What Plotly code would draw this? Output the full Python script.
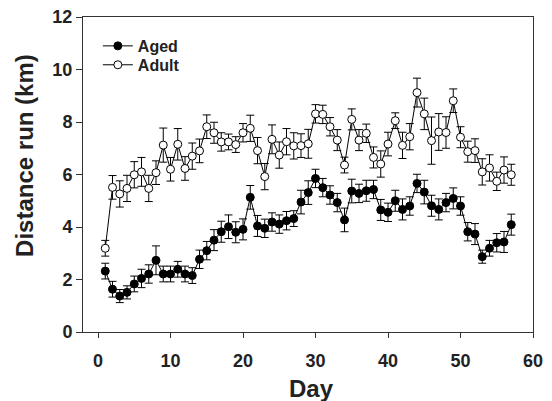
import plotly.graph_objects as go

days = list(range(1, 58))

aged = [2.32, 1.63, 1.37, 1.51, 1.83, 2.04, 2.21, 2.73, 2.21, 2.21,
        2.39, 2.21, 2.15, 2.77, 3.10, 3.50, 3.82, 4.01, 3.80, 3.91,
        5.13, 4.04, 3.95, 4.19, 4.11, 4.24, 4.32, 4.95, 5.31, 5.85,
        5.50, 5.22, 4.93, 4.27, 5.37, 5.28, 5.38, 5.43, 4.65, 4.56,
        5.00, 4.67, 4.80, 5.66, 5.33, 4.81, 4.67, 4.93, 5.09, 4.80,
        3.82, 3.73, 2.87, 3.19, 3.40, 3.43, 4.09]
aged_err = [0.3, 0.3, 0.25, 0.25, 0.3, 0.35, 0.35, 0.55, 0.3, 0.3,
            0.3, 0.3, 0.3, 0.35, 0.35, 0.4, 0.4, 0.45, 0.4, 0.4,
            0.45, 0.4, 0.35, 0.35, 0.35, 0.35, 0.3, 0.45, 0.45, 0.35,
            0.35, 0.35, 0.35, 0.45, 0.45, 0.35, 0.4, 0.35, 0.4, 0.35,
            0.4, 0.4, 0.35, 0.35, 0.45, 0.4, 0.4, 0.35, 0.4, 0.35,
            0.35, 0.4, 0.25, 0.3, 0.35, 0.4, 0.4]

adult = [3.19, 5.51, 5.26, 5.47, 5.99, 6.10, 5.47, 6.07, 7.12, 6.20,
         7.15, 6.23, 6.70, 6.90, 7.82, 7.59, 7.24, 7.24, 7.14, 7.59,
         7.76, 6.91, 5.92, 7.34, 6.74, 7.25, 7.09, 7.10, 7.17, 8.31,
         8.29, 7.82, 7.31, 6.36, 8.10, 7.31, 7.57, 6.65, 6.40, 7.16,
         8.05, 7.11, 7.44, 9.12, 8.31, 7.29, 7.62, 7.60, 8.81, 7.42,
         6.87, 6.91, 6.10, 6.25, 5.74, 6.17, 5.99]
adult_err = [0.3, 0.45, 0.5, 0.5, 0.5, 0.55, 0.5, 0.45, 0.65, 0.45,
             0.6, 0.45, 0.5, 0.45, 0.45, 0.4, 0.35, 0.3, 0.3, 0.35,
             0.5, 0.5, 0.5, 0.55, 0.5, 0.5, 0.5, 0.45, 0.55, 0.35,
             0.35, 0.35, 0.4, 0.3, 0.4, 0.4, 0.35, 0.4, 0.5, 0.45,
             0.3, 0.5, 0.5, 0.55, 0.6, 0.9, 0.7, 0.6, 0.45, 0.4,
             0.4, 0.45, 0.5, 0.5, 0.35, 0.5, 0.4]

x_ticks = [0, 10, 20, 30, 40, 50, 60]
y_ticks = [0, 2, 4, 6, 8, 10, 12]

x_title = "Day"
y_title = "Distance run (km)"

font_family = "Liberation Sans, Arial, sans-serif"
text_color = "#222"

fig = go.Figure()
fig.add_trace(go.Scatter(
    x=days, y=aged, name="Aged", mode="lines+markers", legend="legend",
    line=dict(color="black", width=1),
    marker=dict(symbol="circle", size=8, color="black",
                line=dict(color="black", width=1)),
    error_y=dict(type="data", array=aged_err, visible=True,
                 color="black", thickness=1, width=4),
))
fig.add_trace(go.Scatter(
    x=days, y=adult, name="Adult", mode="lines+markers", legend="legend2",
    line=dict(color="black", width=1),
    marker=dict(symbol="circle", size=8, color="white",
                line=dict(color="black", width=1)),
    error_y=dict(type="data", array=adult_err, visible=True,
                 color="black", thickness=1, width=4),
))

legend_font = dict(family=font_family, size=16, color=text_color, weight="bold")

fig.update_layout(
    width=544, height=393,
    margin=dict(l=75, r=19, t=9, b=69, autoexpand=False),
    paper_bgcolor="white", plot_bgcolor="white",
    font=dict(family=font_family, color=text_color),
    showlegend=True,
    legend=dict(x=0.033, y=0.962, xanchor="left", yanchor="top",
                bgcolor="rgba(0,0,0,0)", font=legend_font, itemwidth=30),
    legend2=dict(x=0.033, y=0.902, xanchor="left", yanchor="top",
                 bgcolor="rgba(0,0,0,0)", font=legend_font, itemwidth=30),
    xaxis=dict(range=[-2.07, 60], tickmode="array", tickvals=x_ticks,
               automargin=False, ticklabelstandoff=7,
               ticklabeloverflow="allow",
               ticks="outside", ticklen=5, tickwidth=1, tickcolor="#333",
               showline=True, linecolor="#333", linewidth=1, mirror=True,
               showgrid=False, zeroline=False,
               tickfont=dict(family=font_family, size=18, color=text_color,
                             weight="bold")),
    yaxis=dict(range=[0, 12], tickmode="array", tickvals=y_ticks,
               automargin=False, ticklabeloverflow="allow",
               ticks="outside", ticklen=6, tickwidth=1, tickcolor="#333",
               showline=True, linecolor="#333", linewidth=1, mirror=True,
               showgrid=False, zeroline=False,
               tickfont=dict(family=font_family, size=18, color=text_color,
                             weight="bold")),
    annotations=[
        dict(text=x_title, xref="paper", yref="paper", x=0.508, y=-0.178,
             xanchor="center", yanchor="middle", showarrow=False,
             font=dict(family=font_family, size=24, color=text_color,
                       weight="bold")),
        dict(text=y_title, xref="paper", yref="paper", x=-0.129, y=0.562,
             xanchor="center", yanchor="middle", showarrow=False,
             textangle=-90,
             font=dict(family=font_family, size=24, color=text_color,
                       weight="bold")),
    ],
)

fig.write_html("out.html")
